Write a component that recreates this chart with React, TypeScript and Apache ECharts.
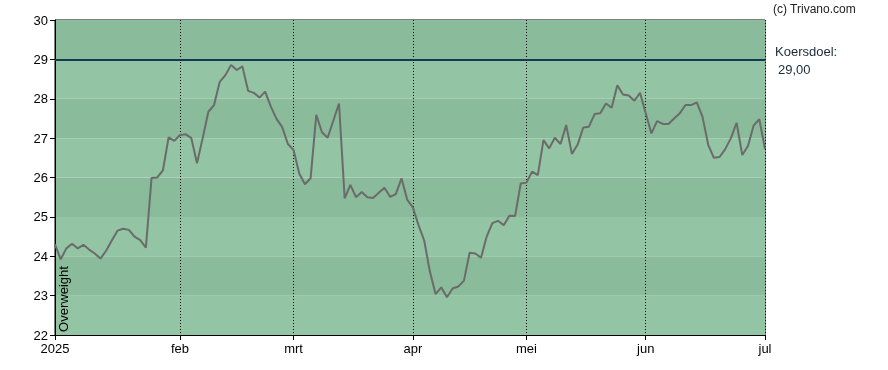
import React, { useEffect, useRef } from "react";
import * as echarts from "echarts";

const monthLabels = ["2025", "feb", "mrt", "apr", "mei", "jun", "jul"];
const tradingDaysPerMonth = [22, 20, 21, 20, 21, 21, 1];

const prices = [
  24.3, 23.92, 24.2, 24.32, 24.2, 24.29, 24.17, 24.07, 23.94, 24.14,
  24.4, 24.65, 24.7, 24.67, 24.5, 24.41, 24.22, 25.99, 26.0, 26.18,
  27.02, 26.93, 27.08, 27.1, 27.0, 26.36, 27.0, 27.67, 27.84, 28.43,
  28.6, 28.86, 28.73, 28.82, 28.2, 28.15, 28.03, 28.18, 27.8, 27.49,
  27.28, 26.85, 26.7, 26.1, 25.83, 25.98, 27.59, 27.15, 27.01, 27.44,
  27.88, 25.47, 25.81, 25.5, 25.63, 25.5, 25.48, 25.61, 25.74, 25.51,
  25.58, 25.98, 25.44, 25.24, 24.79, 24.4, 23.61, 23.04, 23.21, 22.96,
  23.18, 23.23, 23.38, 24.09, 24.07, 23.96, 24.5, 24.84, 24.9, 24.79,
  25.03, 25.02, 25.85, 25.87, 26.15, 26.06, 26.95, 26.74, 27.01, 26.85,
  27.33, 26.6, 26.83, 27.27, 27.29, 27.61, 27.63, 27.88, 27.77, 28.34,
  28.11, 28.08, 27.95, 28.15, 27.63, 27.12, 27.43, 27.36, 27.36, 27.5,
  27.63, 27.84, 27.84, 27.91, 27.54, 26.83, 26.5, 26.52, 26.72, 27.0,
  27.39, 26.57, 26.8, 27.32, 27.48, 26.72,
];

const targetPrice = 29;
const targetLabel = "29,00";
const yTicks = [22, 23, 24, 25, 26, 27, 28, 29, 30];

export default function App() {
  const ref = useRef<HTMLDivElement>(null);

  useEffect(() => {
    if (!ref.current) return;
    const chart = echarts.init(ref.current, undefined, { renderer: "svg" });

    const categories: string[] = [];
    const startLabel: Record<number, string> = {};
    tradingDaysPerMonth.forEach((n, m) => {
      for (let d = 0; d < n; d++) {
        if (d === 0) startLabel[categories.length] = monthLabels[m];
        categories.push(`${m}-${d}`);
      }
    });
    const isStart = (i: number) => startLabel[i] !== undefined;

    const font = "'Liberation Sans', Arial, sans-serif";

    chart.setOption({
      animation: false,
      grid: {
        left: 55,
        right: 123,
        top: 20,
        bottom: 35,
        show: true,
        borderColor: "#000",
        borderWidth: 1,
        backgroundColor: "transparent",
      },
      xAxis: {
        type: "category",
        data: categories,
        boundaryGap: false,
        axisLine: { show: true, lineStyle: { color: "#000", width: 1 } },
        axisTick: {
          show: true,
          interval: (i: number) => isStart(i),
          length: 5,
          lineStyle: { color: "#000" },
        },
        axisLabel: {
          interval: (i: number) => isStart(i),
          formatter: (_v: string, i: number) => startLabel[i] ?? "",
          color: "#000",
          fontFamily: font,
          fontSize: 13,
          margin: 7,
        },
        splitLine: {
          show: true,
          interval: (i: number) => isStart(i),
          lineStyle: { color: "#000", type: [1, 2], width: 1 },
        },
      },
      yAxis: {
        type: "value",
        min: yTicks[0],
        max: yTicks[yTicks.length - 1],
        interval: 1,
        axisLine: { show: true, lineStyle: { color: "#000", width: 1 } },
        axisTick: { show: true, length: 5, lineStyle: { color: "#000" } },
        axisLabel: {
          color: "#000",
          fontFamily: font,
          fontSize: 13,
          margin: 7,
        },
        splitLine: { show: false },
        splitArea: {
          show: true,
          areaStyle: { color: ["#93c4a3", "#8abb9a"] },
        },
      },
      series: [
        {
          type: "line",
          data: prices,
          symbol: "none",
          lineStyle: { color: "#6b6b6b", width: 2 },
          z: 3,
          markLine: {
            silent: true,
            symbol: "none",
            label: { show: false },
            lineStyle: { color: "#123a56", width: 2, type: "solid" },
            data: [{ yAxis: targetPrice }],
            z: 4,
          },
        },
      ],
      graphic: [
        {
          type: "text",
          x: 63,
          y: 299,
          rotation: Math.PI / 2,
          style: {
            text: "Overweight",
            fill: "#000",
            font: `13px ${font}`,
            align: "center",
            verticalAlign: "middle",
          },
          z: 10,
        },
        {
          type: "text",
          x: 773,
          y: 9,
          style: {
            text: "(c) Trivano.com",
            fill: "#222",
            font: `12px ${font}`,
            align: "left",
            verticalAlign: "middle",
          },
        },
        {
          type: "text",
          x: 775,
          y: 51,
          style: {
            text: "Koersdoel:",
            fill: "#1a2a3a",
            font: `13px ${font}`,
            align: "left",
            verticalAlign: "middle",
          },
        },
        {
          type: "text",
          x: 778,
          y: 69,
          style: {
            text: targetLabel,
            fill: "#1a2a3a",
            font: `13px ${font}`,
            align: "left",
            verticalAlign: "middle",
          },
        },
      ],
    });

    return () => chart.dispose();
  }, []);

  return (
    <div
      ref={ref}
      style={{ position: "fixed", left: 0, top: 0, width: 888, height: 370 }}
    />
  );
}
